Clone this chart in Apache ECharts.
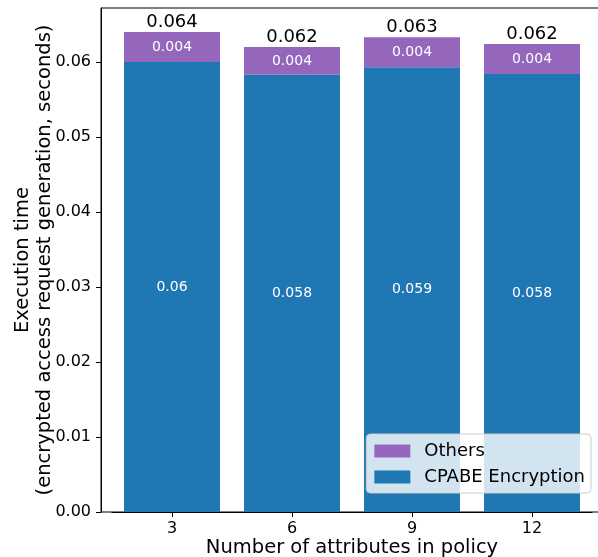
<!DOCTYPE html>
<html>
<head>
<meta charset="utf-8">
<script src="https://cdn.jsdelivr.net/npm/echarts@6/dist/echarts.min.js"></script>
<style>html,body{margin:0;padding:0;background:#fff;}#c{width:598px;height:557px;}</style>
</head>
<body>
<div id="c"></div>
<script>
const categories = ['3', '6', '9', '12'];
const cpabe = [0.0600, 0.0583, 0.0593, 0.0584];
const others = [0.0040, 0.0037, 0.0040, 0.0040];
const yTicks = [0, 0.01, 0.02, 0.03, 0.04, 0.05, 0.06];

const totals = cpabe.map((v, i) => v + others[i]);
const fmt = v => String(parseFloat(v.toFixed(3)));
const FONT = 'DejaVu Sans';
const YMAX = 0.0672;

const chart = echarts.init(document.getElementById('c'), null, {renderer: 'canvas'});
chart.setOption({
  animation: false,
  backgroundColor: '#fff',
  textStyle: {fontFamily: FONT},
  grid: [
    {left: 101, top: 8, width: 502, height: 504, show: true, borderColor: '#000', borderWidth: 1,
     backgroundColor: 'transparent', containLabel: false, outerBoundsMode: 'none'},
    {left: 112, top: 8, width: 480, height: 504, containLabel: false, outerBoundsMode: 'none'}
  ],
  xAxis: [
    {gridIndex: 1, type: 'category', data: categories,
     axisLine: {show: true, lineStyle: {color: '#000', width: 1}},
     axisTick: {show: true, alignWithLabel: true, length: 5, lineStyle: {color: '#000'}},
     axisLabel: {color: '#000', fontSize: 16, fontFamily: FONT, margin: 9},
     name: 'Number of attributes in policy', nameLocation: 'middle', nameGap: 26, nameMoveOverlap: false,
     nameTextStyle: {color: '#000', fontSize: 19.5, fontFamily: FONT, verticalAlign: 'top'},
     splitLine: {show: false}}
  ],
  yAxis: [
    {gridIndex: 1, type: 'value', min: 0, max: YMAX, offset: 11,
     axisLine: {show: true, lineStyle: {color: '#000', width: 1}},
     axisTick: {show: true, length: 5, lineStyle: {color: '#000'}, customValues: yTicks},
     axisLabel: {color: '#000', fontSize: 16, fontFamily: FONT, margin: 10, customValues: yTicks,
                 formatter: v => v.toFixed(2)},
     splitLine: {show: false},
     name: 'Execution time\n(encrypted access request generation, seconds)',
     nameLocation: 'middle', nameGap: 45, nameMoveOverlap: false,
     nameTextStyle: {color: '#000', fontSize: 19.5, fontFamily: FONT, lineHeight: 22, align: 'center'}}
  ],
  legend: {
    data: ['Others', 'CPABE Encryption'],
    orient: 'vertical', right: 7, bottom: 64,
    itemWidth: 36, itemHeight: 13, itemGap: 8,
    icon: 'rect',
    padding: [8, 6, 7, 8],
    backgroundColor: 'rgba(255,255,255,0.8)',
    borderColor: '#cccccc', borderWidth: 1, borderRadius: 4,
    textStyle: {color: '#000', fontSize: 18, fontFamily: FONT, padding: [0, 0, 0, 9]}
  },
  series: [
    {name: 'CPABE Encryption', type: 'bar', stack: 's', xAxisIndex: 0, yAxisIndex: 0,
     data: cpabe, barWidth: '80%', itemStyle: {color: '#1f77b4'},
     label: {show: true, position: 'inside', color: '#fff', fontSize: 14, fontFamily: FONT,
             formatter: p => fmt(p.value)}},
    {name: 'Others', type: 'bar', stack: 's', xAxisIndex: 0, yAxisIndex: 0,
     data: others, barWidth: '80%', itemStyle: {color: '#9467bd'},
     label: {show: true, position: 'inside', color: '#fff', fontSize: 14, fontFamily: FONT,
             formatter: p => fmt(p.value)}},
    {name: 'Total', type: 'scatter', xAxisIndex: 0, yAxisIndex: 0,
     data: totals, symbolSize: 0, silent: true, itemStyle: {opacity: 1},
     label: {show: true, position: 'top', distance: 1, color: '#000', fontSize: 18, fontFamily: FONT,
             formatter: p => fmt(p.value)}}
  ]
});
</script>
</body>
</html>
